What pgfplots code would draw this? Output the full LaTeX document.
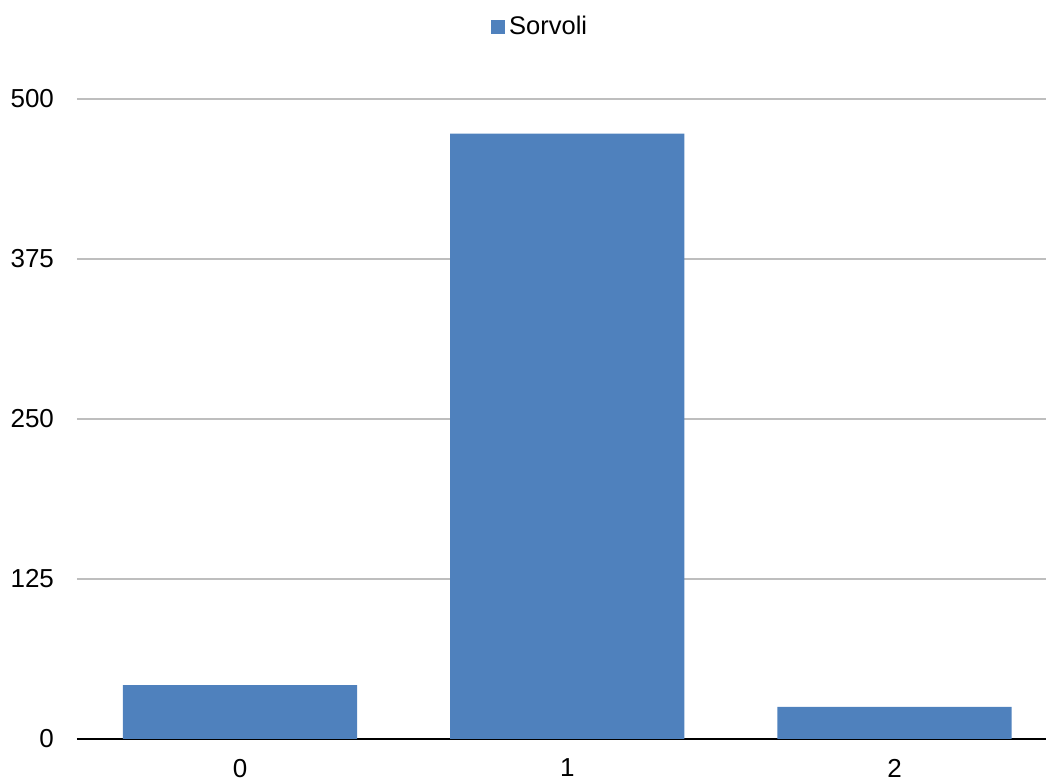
\documentclass[border=0pt]{standalone}
\usepackage{pgfplots}
\pgfplotsset{compat=1.18}
\usepackage{fontspec}
\setmainfont{Liberation Sans}
\definecolor{barblue}{HTML}{4F81BD}
\definecolor{gridgray}{HTML}{BEBEBE}
\begin{document}
\begin{tikzpicture}
\path[use as bounding box] (0,0) rectangle (523pt,390pt);
\begin{axis}[
  at={(38.5pt,20.5pt)}, anchor=south west,
  scale only axis,
  width=484.5pt, height=320pt,
  xmin=-0.4985, xmax=2.463,
  ymin=0, ymax=500,
  ytick={0,125,250,375,500},
  xtick={0,1,2},
  xticklabels={0,1,2},
  axis x line*=bottom,
  axis y line*=left,
  y axis line style={draw=none},
  x axis line style={black, line width=1pt, -},
  major tick length=0pt,
  ymajorgrids=true,
  grid style={gridgray, line width=0.9pt},
  ybar, bar width=0.716,
  tick label style={font=\fontsize{13}{15}\selectfont},
  /pgf/number format/assume math mode=true,
  yticklabel style={xshift=-8pt},
  xticklabel style={yshift=-6.5pt},
  legend style={at={(0.479,1.1125)}, anchor=center, draw=none, fill=none,
    font=\fontsize{12.75}{15}\selectfont, inner sep=0pt},
  legend image code/.code={\fill[barblue] (0pt,-3.5pt) rectangle (7pt,3.5pt);},
  clip=false,
]
\addplot[fill=barblue, draw=none] coordinates {(0,42) (1,473) (2,25)};
\addlegendentry{Sorvoli}
\end{axis}
\end{tikzpicture}
\end{document}
